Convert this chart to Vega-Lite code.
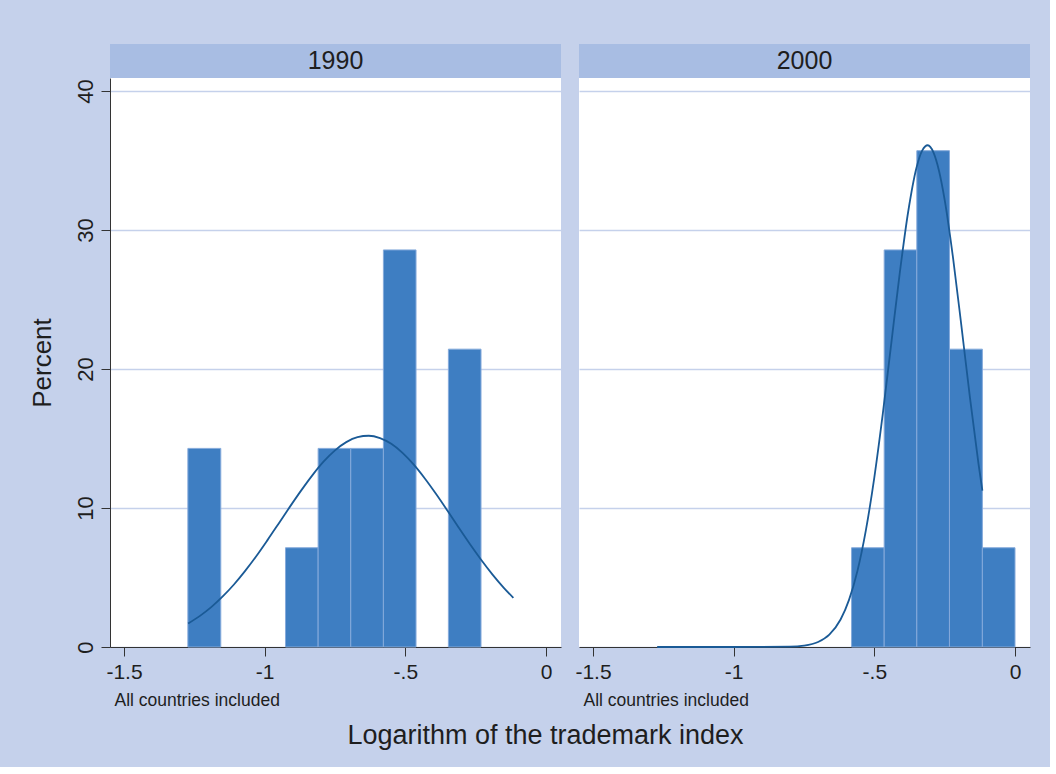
{
  "$schema": "https://vega.github.io/schema/vega-lite/v6.json",
  "background": "#c5d1eb",
  "padding": {"left": 29, "top": 44, "right": 20, "bottom": 18},
  "datasets": {
    "panels": [{"year": "1990"}, {"year": "2000"}],
    "bars": [
      {"year": "1990", "x0": -1.273, "x1": -1.156, "pct": 14.29},
      {"year": "1990", "x0": -0.926, "x1": -0.810, "pct": 7.14},
      {"year": "1990", "x0": -0.810, "x1": -0.694, "pct": 14.29},
      {"year": "1990", "x0": -0.694, "x1": -0.578, "pct": 14.29},
      {"year": "1990", "x0": -0.578, "x1": -0.462, "pct": 28.57},
      {"year": "1990", "x0": -0.347, "x1": -0.231, "pct": 21.43},
      {"year": "2000", "x0": -0.581, "x1": -0.465, "pct": 7.14},
      {"year": "2000", "x0": -0.465, "x1": -0.349, "pct": 28.57},
      {"year": "2000", "x0": -0.349, "x1": -0.233, "pct": 35.71},
      {"year": "2000", "x0": -0.233, "x1": -0.116, "pct": 21.43},
      {"year": "2000", "x0": -0.116, "x1": 0.0, "pct": 7.14}
    ],
    "curve": [
      {"year": "1990", "x": -1.272, "pct": 1.69},
      {"year": "1990", "x": -1.23, "pct": 2.24},
      {"year": "1990", "x": -1.19, "pct": 2.87},
      {"year": "1990", "x": -1.15, "pct": 3.62},
      {"year": "1990", "x": -1.11, "pct": 4.48},
      {"year": "1990", "x": -1.07, "pct": 5.46},
      {"year": "1990", "x": -1.03, "pct": 6.53},
      {"year": "1990", "x": -0.99, "pct": 7.69},
      {"year": "1990", "x": -0.95, "pct": 8.89},
      {"year": "1990", "x": -0.91, "pct": 10.10},
      {"year": "1990", "x": -0.87, "pct": 11.27},
      {"year": "1990", "x": -0.83, "pct": 12.37},
      {"year": "1990", "x": -0.79, "pct": 13.35},
      {"year": "1990", "x": -0.75, "pct": 14.15},
      {"year": "1990", "x": -0.71, "pct": 14.74},
      {"year": "1990", "x": -0.67, "pct": 15.10},
      {"year": "1990", "x": -0.63, "pct": 15.20},
      {"year": "1990", "x": -0.59, "pct": 15.03},
      {"year": "1990", "x": -0.55, "pct": 14.62},
      {"year": "1990", "x": -0.51, "pct": 13.97},
      {"year": "1990", "x": -0.47, "pct": 13.12},
      {"year": "1990", "x": -0.43, "pct": 12.11},
      {"year": "1990", "x": -0.39, "pct": 10.99},
      {"year": "1990", "x": -0.35, "pct": 9.80},
      {"year": "1990", "x": -0.31, "pct": 8.58},
      {"year": "1990", "x": -0.27, "pct": 7.39},
      {"year": "1990", "x": -0.23, "pct": 6.26},
      {"year": "1990", "x": -0.19, "pct": 5.21},
      {"year": "1990", "x": -0.15, "pct": 4.26},
      {"year": "1990", "x": -0.116, "pct": 3.54},
      {"year": "2000", "x": -1.272, "pct": 0},
      {"year": "2000", "x": -1.0, "pct": 0},
      {"year": "2000", "x": -0.8, "pct": 0.025},
      {"year": "2000", "x": -0.75, "pct": 0.10},
      {"year": "2000", "x": -0.70, "pct": 0.36},
      {"year": "2000", "x": -0.66, "pct": 0.89},
      {"year": "2000", "x": -0.62, "pct": 1.98},
      {"year": "2000", "x": -0.59, "pct": 3.39},
      {"year": "2000", "x": -0.56, "pct": 5.48},
      {"year": "2000", "x": -0.53, "pct": 8.41},
      {"year": "2000", "x": -0.50, "pct": 12.21},
      {"year": "2000", "x": -0.47, "pct": 16.77},
      {"year": "2000", "x": -0.44, "pct": 21.81},
      {"year": "2000", "x": -0.41, "pct": 26.85},
      {"year": "2000", "x": -0.38, "pct": 31.28},
      {"year": "2000", "x": -0.35, "pct": 34.50},
      {"year": "2000", "x": -0.33, "pct": 35.72},
      {"year": "2000", "x": -0.31, "pct": 36.10},
      {"year": "2000", "x": -0.29, "pct": 35.59},
      {"year": "2000", "x": -0.27, "pct": 34.25},
      {"year": "2000", "x": -0.25, "pct": 32.17},
      {"year": "2000", "x": -0.22, "pct": 27.96},
      {"year": "2000", "x": -0.19, "pct": 23.01},
      {"year": "2000", "x": -0.16, "pct": 17.92},
      {"year": "2000", "x": -0.13, "pct": 13.21},
      {"year": "2000", "x": -0.116, "pct": 11.25}
    ]
  },
  "title": {
    "text": "Logarithm of the trademark index",
    "orient": "bottom",
    "anchor": "middle",
    "fontSize": 27,
    "fontWeight": "normal",
    "color": "#1e1e1e",
    "offset": 14,
    "dx": 16
  },
  "spacing": 13,
  "hconcat": [
    {
      "spacing": 0,
      "bounds": "flush",
      "vconcat": [
        {
          "data": {"name": "panels"},
          "transform": [{"filter": "datum.year == '1990'"}],
          "width": 451,
          "height": 34,
          "view": {"fill": "#a8bde3", "stroke": null},
          "mark": {"type": "text", "fontSize": 25, "color": "#1e1e1e"},
          "encoding": {"text": {"field": "year", "type": "nominal"}}
        },
        {
          "width": 451,
          "height": 569,
          "layer": [
            {
              "data": {"name": "bars"},
              "transform": [{"filter": "datum.year == '1990'"}],
              "mark": {"type": "rect", "fill": "#3e7ec2", "stroke": "#85aadb", "strokeWidth": 1},
              "encoding": {
                "x": {
                  "field": "x0", "type": "quantitative",
                  "scale": {"domain": [-1.5498, 0.0533], "nice": false, "zero": false},
                  "axis": {
                    "values": [-1.5, -1, -0.5, 0],
                    "labelExpr": "datum.value == 0 ? '0' : datum.value == -1 ? '-1' : datum.value == -1.5 ? '-1.5' : '-.5'",
                    "grid": false, "tickSize": 9, "tickColor": "#333", "domainColor": "#333",
                    "labelFontSize": 21, "labelColor": "#1e1e1e", "labelPadding": 5, "labelFlush": false,
                    "title": "All countries included", "titleFontSize": 17.5, "titleFontWeight": "normal",
                    "titleColor": "#1e1e1e", "titleAlign": "left", "titleAnchor": "start", "titleX": 4, "titleY": 58,
                    "titleBaseline": "alphabetic"
                  }
                },
                "x2": {"field": "x1"},
                "y": {
                  "field": "pct", "type": "quantitative",
                  "scale": {"domain": [0, 40.94], "nice": false},
                  "axis": {
                    "values": [0, 10, 20, 30, 40],
                    "grid": true, "gridColor": "#c5d1eb", "gridWidth": 1.5,
                    "tickSize": 9, "tickColor": "#333", "domainColor": "#333",
                    "labelAngle": -90, "labelAlign": "center", "labelBaseline": "alphabetic",
                    "labelFontSize": 22, "labelColor": "#1e1e1e", "labelPadding": 9,
                    "title": "Percent", "titleFontSize": 26, "titleFontWeight": "normal", "titleColor": "#1e1e1e",
                    "titlePadding": 19
                  }
                },
                "y2": {"datum": 0}
              }
            },
            {
              "data": {"name": "curve"},
              "transform": [{"filter": "datum.year == '1990'"}],
              "mark": {"type": "line", "color": "#1a5a96", "strokeWidth": 1.8, "interpolate": "monotone"},
              "encoding": {
                "x": {"field": "x", "type": "quantitative", "title": "All countries included"},
                "y": {"field": "pct", "type": "quantitative", "title": "Percent"}
              }
            }
          ]
        }
      ]
    },
    {
      "spacing": 0,
      "bounds": "flush",
      "vconcat": [
        {
          "data": {"name": "panels"},
          "transform": [{"filter": "datum.year == '2000'"}],
          "width": 451,
          "height": 34,
          "view": {"fill": "#a8bde3", "stroke": null},
          "mark": {"type": "text", "fontSize": 25, "color": "#1e1e1e"},
          "encoding": {"text": {"field": "year", "type": "nominal"}}
        },
        {
          "width": 451,
          "height": 569,
          "layer": [
            {
              "data": {"name": "bars"},
              "transform": [{"filter": "datum.year == '2000'"}],
              "mark": {"type": "rect", "fill": "#3e7ec2", "stroke": "#85aadb", "strokeWidth": 1},
              "encoding": {
                "x": {
                  "field": "x0", "type": "quantitative",
                  "scale": {"domain": [-1.5498, 0.0533], "nice": false, "zero": false},
                  "axis": {
                    "values": [-1.5, -1, -0.5, 0],
                    "labelExpr": "datum.value == 0 ? '0' : datum.value == -1 ? '-1' : datum.value == -1.5 ? '-1.5' : '-.5'",
                    "grid": false, "tickSize": 9, "tickColor": "#333", "domainColor": "#333",
                    "labelFontSize": 21, "labelColor": "#1e1e1e", "labelPadding": 5, "labelFlush": false,
                    "title": "All countries included", "titleFontSize": 17.5, "titleFontWeight": "normal",
                    "titleColor": "#1e1e1e", "titleAlign": "left", "titleAnchor": "start", "titleX": 4, "titleY": 58,
                    "titleBaseline": "alphabetic"
                  }
                },
                "x2": {"field": "x1"},
                "y": {
                  "field": "pct", "type": "quantitative",
                  "scale": {"domain": [0, 40.94], "nice": false},
                  "axis": {
                    "values": [0, 10, 20, 30, 40],
                    "grid": true, "gridColor": "#c5d1eb", "gridWidth": 1.5,
                    "domain": false, "ticks": false, "labels": false, "title": null
                  }
                },
                "y2": {"datum": 0}
              }
            },
            {
              "data": {"name": "curve"},
              "transform": [{"filter": "datum.year == '2000'"}],
              "mark": {"type": "line", "color": "#1a5a96", "strokeWidth": 1.8, "interpolate": "monotone"},
              "encoding": {
                "x": {"field": "x", "type": "quantitative", "title": "All countries included"},
                "y": {"field": "pct", "type": "quantitative", "title": null}
              }
            }
          ]
        }
      ]
    }
  ],
  "config": {
    "font": "Liberation Sans",
    "view": {"fill": "white", "stroke": null}
  }
}
